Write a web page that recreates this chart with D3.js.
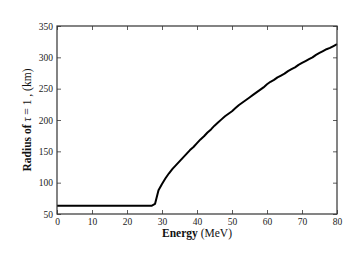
<!DOCTYPE html>
<html><head><meta charset="utf-8">
<script src="https://cdn.jsdelivr.net/npm/d3@7"></script>
<style>body{margin:0;background:#fff}svg{display:block}</style>
</head><body>
<script>
const energy = d3.range(0, 81);
const radius = [63,63,63,63,63,63,63,63,63,63,63,63,63,63,63,63,63,63,63,63,63,63,63,63,63,63,63,63,
  66,88,98,107,115,122,128,134,140,146,152,157,163,169,174,180,185,191,196,201,206,210,214,219,224,228,
  232,236,240,244,248,252,257,261,264,268,271,274,278,281,284,288,291,294,297,300,304,307,310,313,315,318,321];
const xTicks = [0,10,20,30,40,50,60,70,80];
const yTicks = [50,100,150,200,250,300,350];

const W = 350, H = 263;
const m = {l:57, r:13, t:26, b:49};
const svg = d3.select("body").append("svg").attr("width", W).attr("height", H);
const x = d3.scaleLinear().domain([0,80]).range([m.l, W-m.r]);
const y = d3.scaleLinear().domain([50,350]).range([H-m.b, m.t]);
const font = "'Liberation Serif','DejaVu Serif',serif";

const data = energy.map((e,i)=>[e, radius[i]]);
svg.append("path").datum(data)
  .attr("d", d3.line().x(d=>x(d[0])).y(d=>y(d[1])))
  .attr("fill","none").attr("stroke","#000").attr("stroke-width",2).attr("stroke-linejoin","round");

function styleAxis(g){
  g.select(".domain").remove();
  g.selectAll("line").attr("stroke","#333").attr("stroke-width",0.8);
  g.selectAll("text").attr("font-family",font).attr("font-size",9.5).attr("fill","#222");
}
svg.append("g").attr("transform",`translate(0,${H-m.b})`)
  .call(d3.axisBottom(x).tickValues(xTicks).tickSize(-4).tickPadding(4).tickFormat(d3.format("d"))).call(styleAxis);
svg.append("g").attr("transform",`translate(0,${m.t})`)
  .call(d3.axisTop(x).tickValues(xTicks).tickSize(-4).tickFormat("")).call(styleAxis);
svg.append("g").attr("transform",`translate(${m.l},0)`)
  .call(d3.axisLeft(y).tickValues(yTicks).tickSize(-4).tickPadding(4).tickFormat(d3.format("d"))).call(styleAxis);
svg.append("g").attr("transform",`translate(${W-m.r},0)`)
  .call(d3.axisRight(y).tickValues(yTicks).tickSize(-4).tickFormat("")).call(styleAxis);

svg.append("rect").attr("x",m.l).attr("y",m.t).attr("width",W-m.l-m.r).attr("height",H-m.t-m.b)
  .attr("fill","none").attr("stroke","#333").attr("stroke-width",1.2);

const xl = svg.append("text").attr("x",(m.l+W-m.r)/2).attr("y",237).attr("text-anchor","middle")
  .attr("font-family",font).attr("font-size",11.5).attr("fill","#111");
xl.append("tspan").attr("font-weight","bold").text("Energy");
xl.append("tspan").text(" (MeV)");

const yl = svg.append("text").attr("transform",`translate(31,${(m.t+H-m.b)/2}) rotate(-90)`)
  .attr("text-anchor","middle").attr("font-family",font).attr("font-size",11.5).attr("fill","#111");
yl.append("tspan").attr("font-weight","bold").text("Radius of ");
yl.append("tspan").attr("font-style","italic").text("τ");
yl.append("tspan").text(" = 1 , (km)");
</script>
</body></html>
